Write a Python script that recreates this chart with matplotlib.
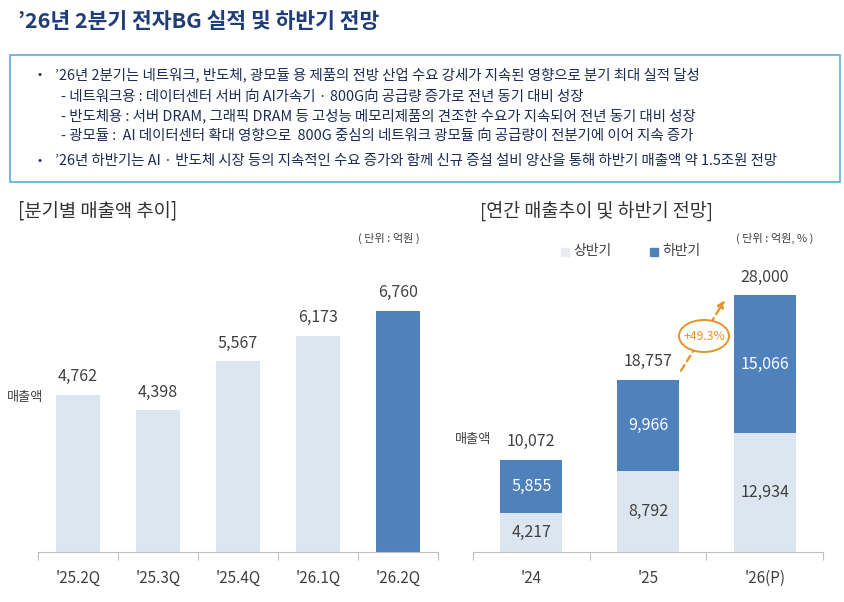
import matplotlib
matplotlib.use("Agg")
import matplotlib.pyplot as plt
from matplotlib.patches import Rectangle, Ellipse

plt.rcParams['font.family'] = ['Noto Sans CJK KR', 'DejaVu Sans']

# quarterly sales (unit: 100M KRW)
quarters = ["'25.2Q", "'25.3Q", "'25.4Q", "'26.1Q", "'26.2Q"]
q_sales = [4762, 4398, 5567, 6173, 6760]

# yearly sales, first half / second half / total as printed
years = ["'24", "'25", "'26(P)"]
h1 = [4217, 8792, 12934]
h2 = [5855, 9966, 15066]
totals = [10072, 18757, 28000]
growth = "+49.3%"

title = "’26년 2분기 전자BG 실적 및 하반기 전망"
notes = [
    ("•", "’26년 2분기는 네트워크, 반도체, 광모듈 용 제품의 전방 산업 수요 강세가 지속된 영향으로 분기 최대 실적 달성"),
    ("", "- 네트워크용 : 데이터센터 서버 向 AI가속기 · 800G向 공급량 증가로 전년 동기 대비 성장"),
    ("", "- 반도체용 : 서버 DRAM, 그래픽 DRAM 등 고성능 메모리제품의 견조한 수요가 지속되어 전년 동기 대비 성장"),
    ("", "- 광모듈 :  AI 데이터센터 확대 영향으로  800G 중심의 네트워크 광모듈 向 공급량이 전분기에 이어 지속 증가"),
    ("•", "’26년 하반기는 AI · 반도체 시장 등의 지속적인 수요 증가와 함께 신규 증설 설비 양산을 통해 하반기 매출액 약 1.5조원 전망"),
]

LIGHT = '#dce6f0'
BLUE = '#4f81bd'
GRAY = '#404040'
NAVY = '#1f3d7a'
ORANGE = '#e8922a'

W, H = 844, 602
fig = plt.figure(figsize=(W / 100, H / 100), dpi=100)

def fx(px):
    return px / W

def fy(py):
    return 1 - py / H

fig.text(fx(18), fy(22), title, fontsize=15.5, fontweight='bold', color=NAVY, va='center')

# note box
fig.patches.append(Rectangle((fx(10), fy(182)), fx(830), (182 - 55) / H, transform=fig.transFigure,
                             fill=False, edgecolor='#5aaed8', linewidth=1.2))
ys = [75, 97, 116, 136, 161]
for (b, t), yy in zip(notes, ys):
    if b:
        fig.text(fx(37), fy(yy), b, fontsize=9, color='#1b2c55', va='center')
        fig.text(fx(55), fy(yy), t, fontsize=10.4, color='#1b2c55', va='center')
    else:
        fig.text(fx(61), fy(yy), t, fontsize=10.4, color='#1b2c55', va='center')

# ---- left chart
fig.text(fx(18), fy(211), "[분기별 매출액 추이]", fontsize=13.5, color='#333333', va='center')
fig.text(fx(420), fy(238), "( 단위 : 억원 )", fontsize=8, color=GRAY, va='center', ha='right')
fig.text(fx(7), fy(398), "매출액", fontsize=9.5, color=GRAY, va='center')

ax1 = fig.add_axes([fx(38), fy(552), 400 / W, 262 / H])
x1 = list(range(len(quarters)))
cols = [LIGHT] * (len(quarters) - 1) + [BLUE]
ax1.bar(x1, q_sales, width=0.56, color=cols)
for xi, v in zip(x1, q_sales):
    ax1.annotate(f"{v:,}", (xi, v), xytext=(0, 7), textcoords='offset points',
                 ha='center', va='bottom', fontsize=11.5, color=GRAY)
ax1.set_xlim(-0.5, 4.5)
ax1.set_ylim(1030, 7260)

# ---- right chart
fig.text(fx(480), fy(211), "[연간 매출추이 및 하반기 전망]", fontsize=13.3, color='#333333', va='center')
fig.text(fx(813), fy(238), "( 단위 : 억원, % )", fontsize=8, color=GRAY, va='center', ha='right')
fig.text(fx(455), fy(439), "매출액", fontsize=9.5, color=GRAY, va='center')
fig.patches.append(Rectangle((fx(561), fy(256)), fx(8), 8 / H, transform=fig.transFigure, color='#e8ebf0'))
fig.text(fx(573), fy(251), "상반기", fontsize=10, color=GRAY, va='center')
fig.patches.append(Rectangle((fx(650), fy(256)), fx(8), 8 / H, transform=fig.transFigure, color=BLUE))
fig.text(fx(662), fy(251), "하반기", fontsize=10, color=GRAY, va='center')

ax2 = fig.add_axes([fx(473), fy(552), 350 / W, 262 / H])
x2 = list(range(len(years)))
ax2.bar(x2, h1, width=0.53, color=LIGHT)
ax2.bar(x2, h2, width=0.53, bottom=h1, color=BLUE)
for xi, a, b, t in zip(x2, h1, h2, totals):
    ax2.text(xi, a / 2, f"{a:,}", ha='center', va='center', fontsize=11.5, color=GRAY)
    ax2.text(xi, a + b / 2, f"{b:,}", ha='center', va='center', fontsize=11.5, color='white')
    ax2.annotate(f"{t:,}", (xi, a + b), xytext=(0, 7), textcoords='offset points',
                 ha='center', va='bottom', fontsize=11.5, color=GRAY, annotation_clip=False)
ax2.set_xlim(-0.5, 2.5)
ax2.set_ylim(0, 28570)

# growth arrow
ax2.annotate("", xy=(1.67, 27700), xytext=(1.27, 19500), annotation_clip=False,
             arrowprops=dict(arrowstyle='-|>', color=ORANGE, lw=1.6, linestyle=(0, (3, 2)),
                             mutation_scale=10))
fig.patches.append(Ellipse((fx(704), fy(336)), 50 / W, 32 / H, transform=fig.transFigure,
                           facecolor='white', edgecolor=ORANGE, linewidth=1.4, zorder=5))
fig.text(fx(704), fy(336), growth, fontsize=8.8, color=ORANGE, ha='center', va='center', zorder=6)

for ax, labels in ((ax1, quarters), (ax2, years)):
    n = len(labels)
    for s in ('top', 'right', 'left'):
        ax.spines[s].set_visible(False)
    ax.spines['bottom'].set_color('#bfbfbf')
    ax.set_yticks([])
    ax.set_xticks([i - 0.5 for i in range(n + 1)])
    ax.set_xticklabels([])
    ax.tick_params(axis='x', which='major', length=6, color='#bfbfbf', direction='out')
    ax.set_xticks(range(n), minor=True)
    ax.set_xticklabels(labels, minor=True, fontsize=11, color=GRAY)
    ax.tick_params(axis='x', which='minor', length=0, pad=13)
    ax.patch.set_alpha(0)

fig.savefig("out.png", dpi=100)
